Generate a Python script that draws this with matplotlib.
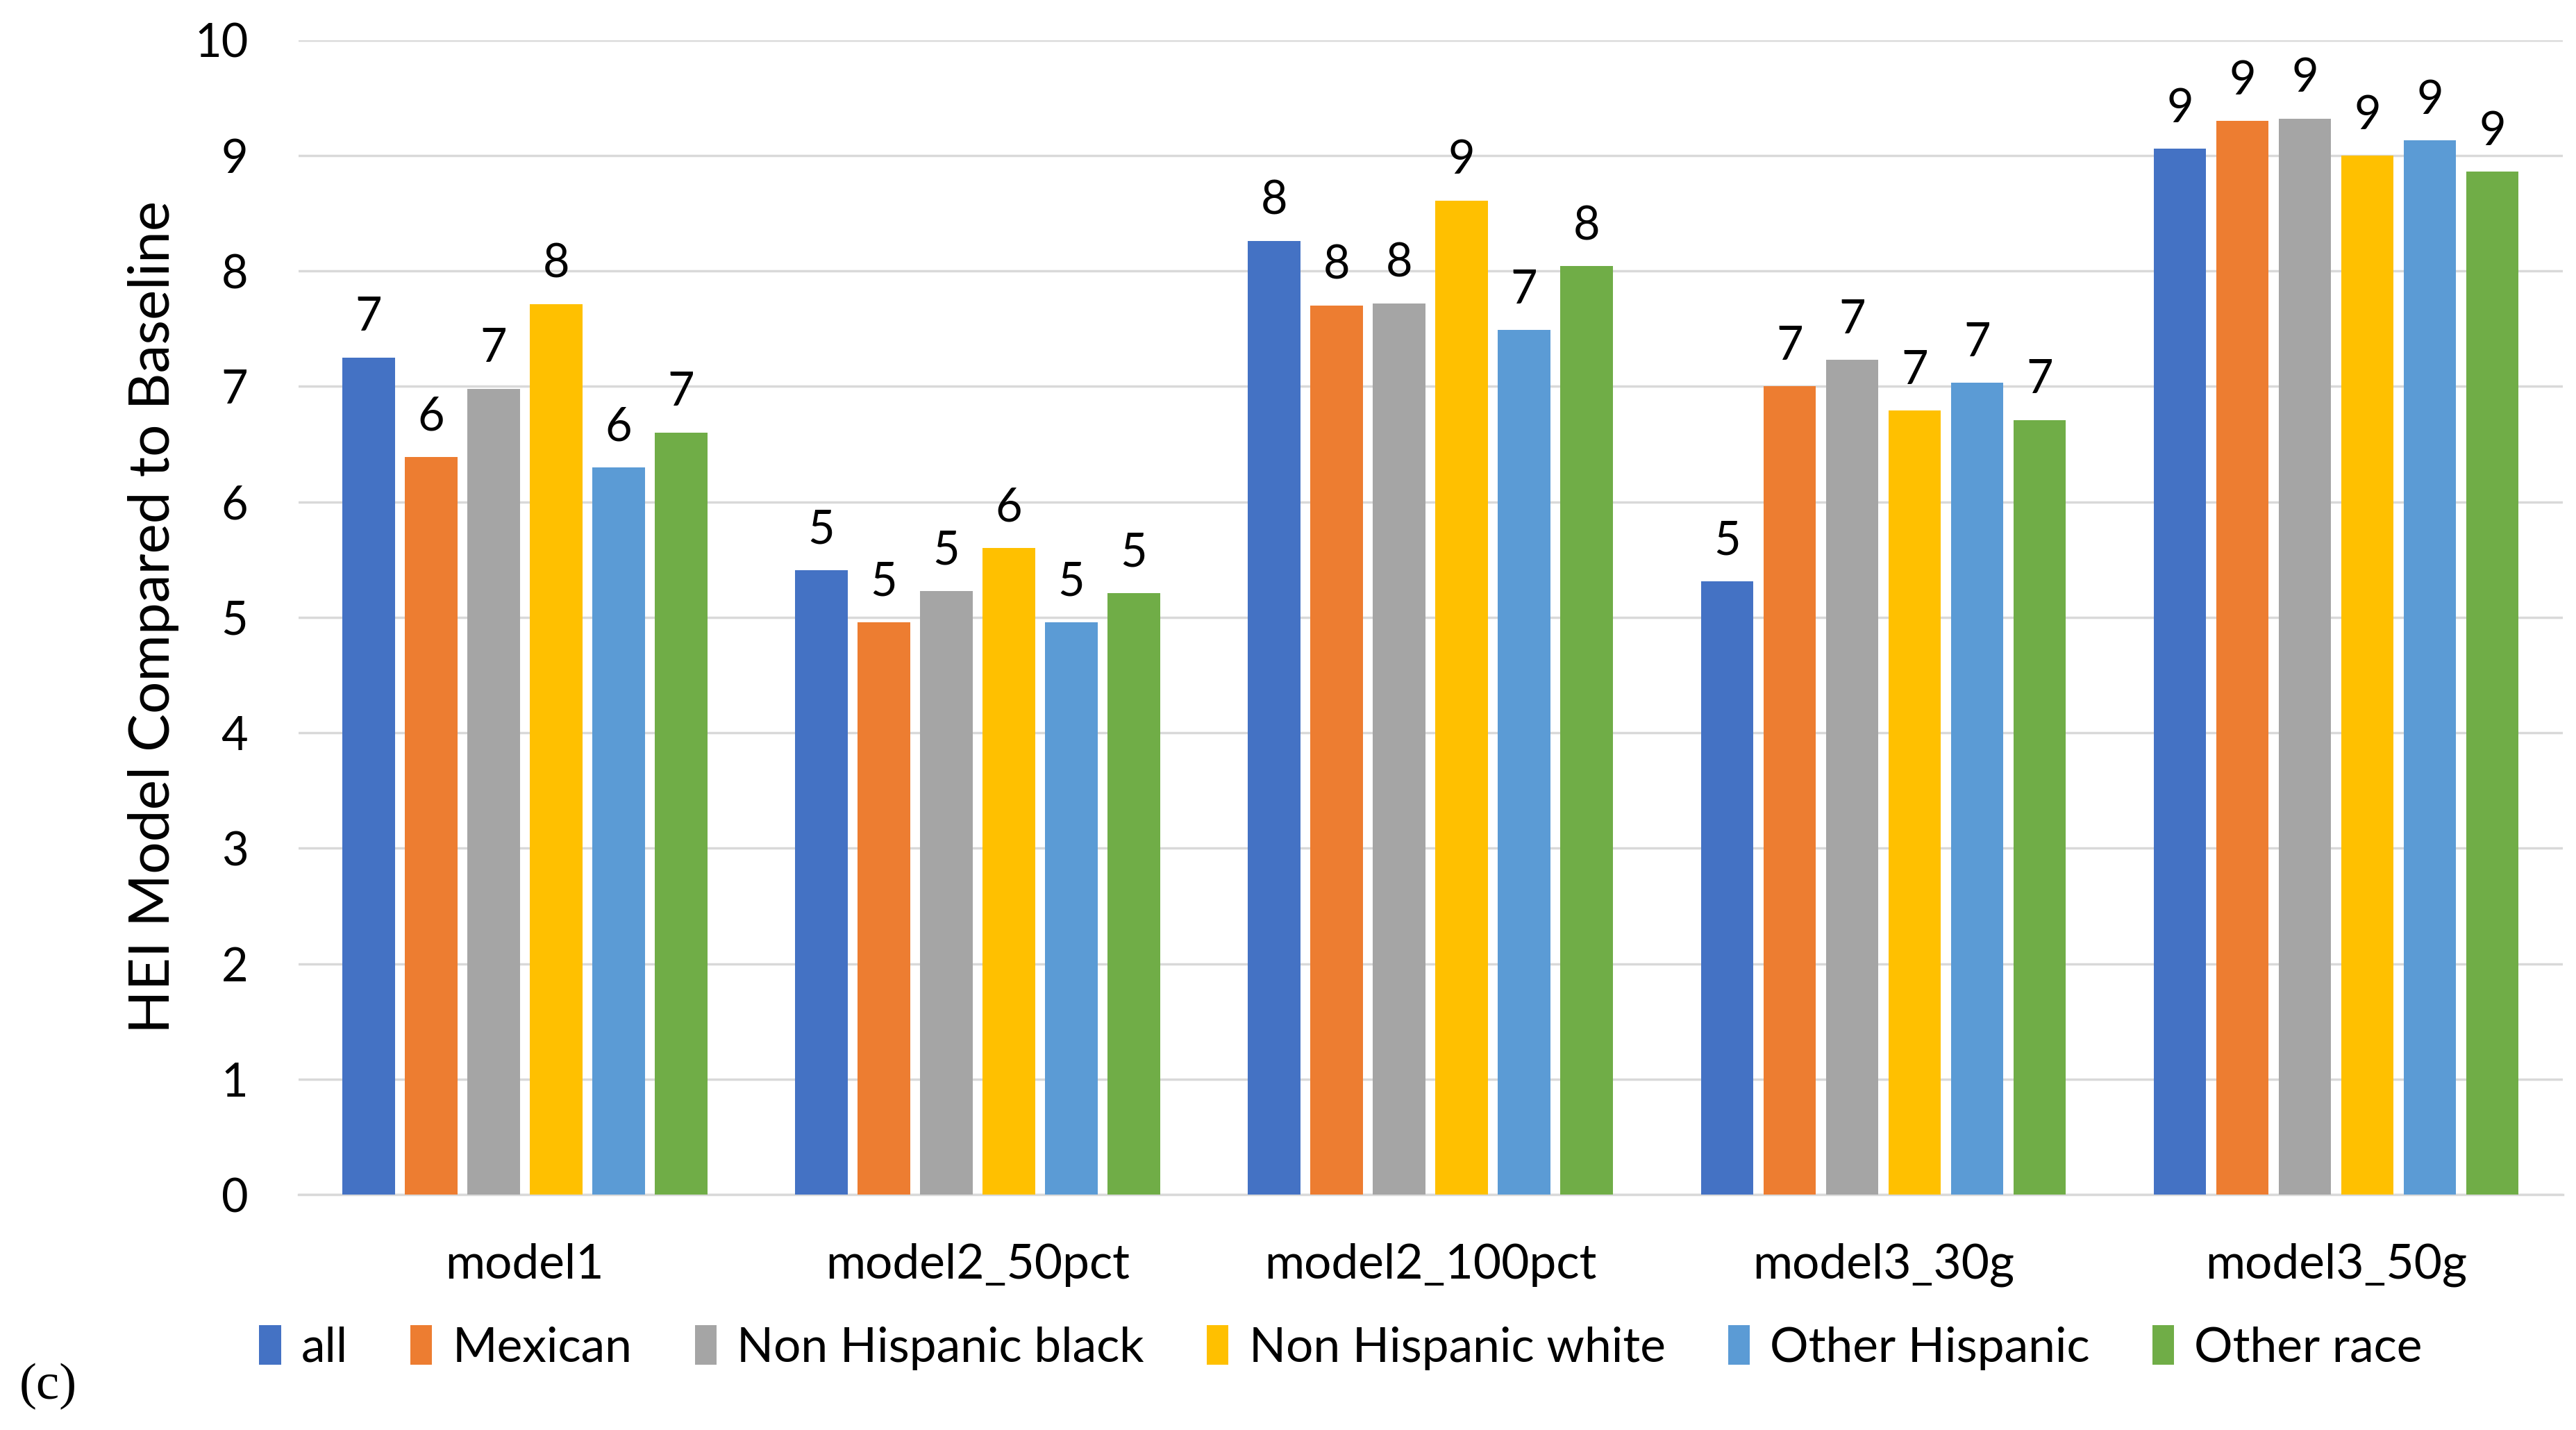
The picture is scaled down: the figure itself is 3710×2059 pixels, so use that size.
import numpy as np
import matplotlib
matplotlib.use('Agg')
import matplotlib.pyplot as plt

# ── data ────────────────────────────────────────────────────────────────
models = ["model1", "model2_50pct", "model2_100pct", "model3_30g", "model3_50g"]
groups = ["all", "Mexican", "Non Hispanic black", "Non Hispanic white",
          "Other Hispanic", "Other race"]

val_all   = [7.25, 5.41, 8.26, 5.31, 9.06]
val_mex   = [6.39, 4.96, 7.70, 7.00, 9.30]
val_nhb   = [6.98, 5.23, 7.72, 7.23, 9.32]
val_nhw   = [7.71, 5.60, 8.61, 6.79, 9.00]
val_oh    = [6.30, 4.96, 7.49, 7.03, 9.13]
val_other = [6.60, 5.21, 8.04, 6.71, 8.86]
series = [val_all, val_mex, val_nhb, val_nhw, val_oh, val_other]

colors = ["#4472C4", "#ED7D31", "#A5A5A5", "#FFC000", "#5B9BD5", "#70AD47"]

plt.rcParams['font.family'] = ['Lato', 'DejaVu Sans']

fig = plt.figure(figsize=(37.10, 20.59), dpi=100)
ax = fig.add_axes([0.1158, 0.1646, 0.879, 0.8074])

x = np.arange(len(models))
pitch, width = 0.138, 0.116
for i, (vals, col, name) in enumerate(zip(series, colors, groups)):
    pos = x + (i - 2.5) * pitch
    bars = ax.bar(pos, vals, width, color=col, label=name, zorder=3)
    for b, v in zip(bars, vals):
        ax.annotate(f"{v:.0f}", (b.get_x() + b.get_width() / 2, v),
                    xytext=(0, 19), textcoords="offset points",
                    ha="center", va="bottom", fontsize=48, color="black")

ax.set_xlim(-0.5, len(models) - 0.5)
ax.set_ylim(0, 10)
ax.set_yticks(range(0, 11))
ax.set_xticks(x)
ax.set_xticklabels(models)
ax.tick_params(axis='both', length=0, labelsize=48)
ax.tick_params(axis='x', labelsize=50, pad=50)
ax.tick_params(axis='y', pad=52)

ax.grid(axis='y', color='#d9d9d9', linewidth=2.5, zorder=0)
for s in ['top', 'right', 'left']:
    ax.spines[s].set_visible(False)
ax.spines['bottom'].set_color('#d9d9d9')
ax.spines['bottom'].set_linewidth(2.5)

ax.set_ylabel("HEI Model Compared to Baseline", fontsize=59)
ax.yaxis.set_label_coords(-0.0526, 0.5)

ax.legend(loc='center', bbox_to_anchor=(0.4604, -0.1324), ncol=6, frameon=False,
          fontsize=50, handlelength=0.45, handleheight=0.9, handletextpad=0.42,
          columnspacing=1.3)

fig.text(0.0075, 0.014, "(c)", fontsize=54, family='Liberation Serif', va='bottom')

fig.savefig("out.png", dpi=100)
